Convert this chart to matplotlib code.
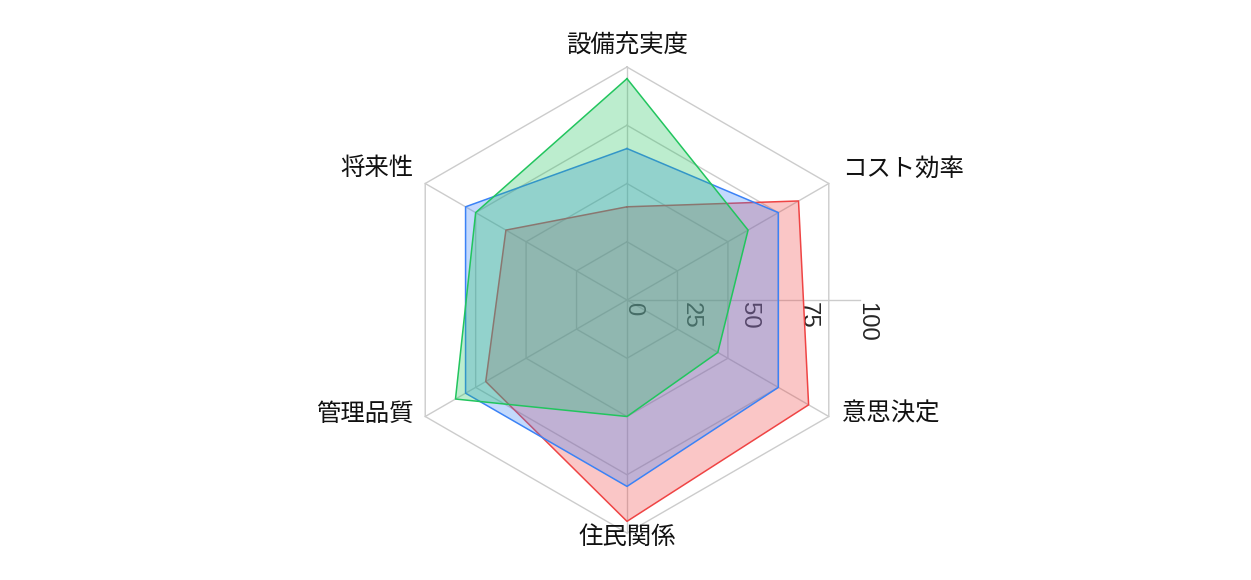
import numpy as np
import matplotlib
matplotlib.use("Agg")
import matplotlib.pyplot as plt

plt.rcParams['font.family'] = ['Noto Sans CJK JP', 'DejaVu Sans']

# ---- data ----
categories = ["設備充実度", "コスト効率", "意思決定", "住民関係", "管理品質", "将来性"]
series_red = [40, 85, 90, 95, 70, 60]
series_blue = [65, 75, 75, 80, 80, 80]
series_green = [95, 60, 45, 50, 85, 75]
radial_ticks = [0, 25, 50, 75, 100]
radial_max = 100

series = [
    (series_red, "#ef4444"),
    (series_blue, "#3b82f6"),
    (series_green, "#22c55e"),
]

# ---- figure ----
W, H = 1251, 580
fig = plt.figure(figsize=(W / 100, H / 100), dpi=100)
cx, cy, R = 627, 300, 233
ax = fig.add_axes([(cx - R) / W, (H - cy - R) / H, 2 * R / W, 2 * R / H],
                  projection='polar')
ax.set_theta_zero_location('N')
ax.set_theta_direction(-1)
ax.set_ylim(0, radial_max)
ax.grid(False)
ax.set_xticks([])
ax.set_yticks([])
ax.spines['polar'].set_visible(False)
ax.patch.set_alpha(0)

n = len(categories)
angles = np.arange(n) * 2 * np.pi / n
closed = np.concatenate([angles, angles[:1]])

grid_color = "#cccccc"
# hexagonal rings
for r in radial_ticks[1:]:
    ax.plot(closed, [r] * (n + 1), color=grid_color, lw=1.0, zorder=1, clip_on=False)
# spokes
for a in angles:
    ax.plot([a, a], [0, radial_max], color=grid_color, lw=1.0, zorder=1, clip_on=False)
# radial axis line (pointing right)
east = np.pi / 2
ax.plot([east, east], [0, radial_max], color=grid_color, lw=1.0, zorder=1, clip_on=False)

# radial tick labels
for t in radial_ticks:
    ax.annotate(str(t), xy=(east, t), xytext=(0, -2), textcoords='offset pixels',
                rotation=-90, rotation_mode='anchor', ha='left', va='baseline',
                fontsize=17.2, color='#262626', family='Liberation Sans',
                zorder=1.5, annotation_clip=False)

# series
for i, (vals, col) in enumerate(series):
    v = list(vals) + [vals[0]]
    ax.fill(closed, v, color=col, alpha=0.3, lw=0, zorder=2 + i)
    ax.plot(closed, v, color=col, lw=1.1, zorder=2.5 + i, clip_on=False)

# category labels
offsets = [
    ((0, 21), 'center'),
    ((13, 15), 'left'),
    ((13, 2.5), 'left'),
    ((0, -4), 'center'),
    ((-12, 2.5), 'right'),
    ((-12, 15), 'right'),
]
for a, lab, (off, ha) in zip(angles, categories, offsets):
    ax.annotate(lab, xy=(a, radial_max), xytext=off, textcoords='offset pixels',
                ha=ha, va='center', fontsize=17.6, color='#111111',
                annotation_clip=False)

fig.savefig("out.png", dpi=100)
